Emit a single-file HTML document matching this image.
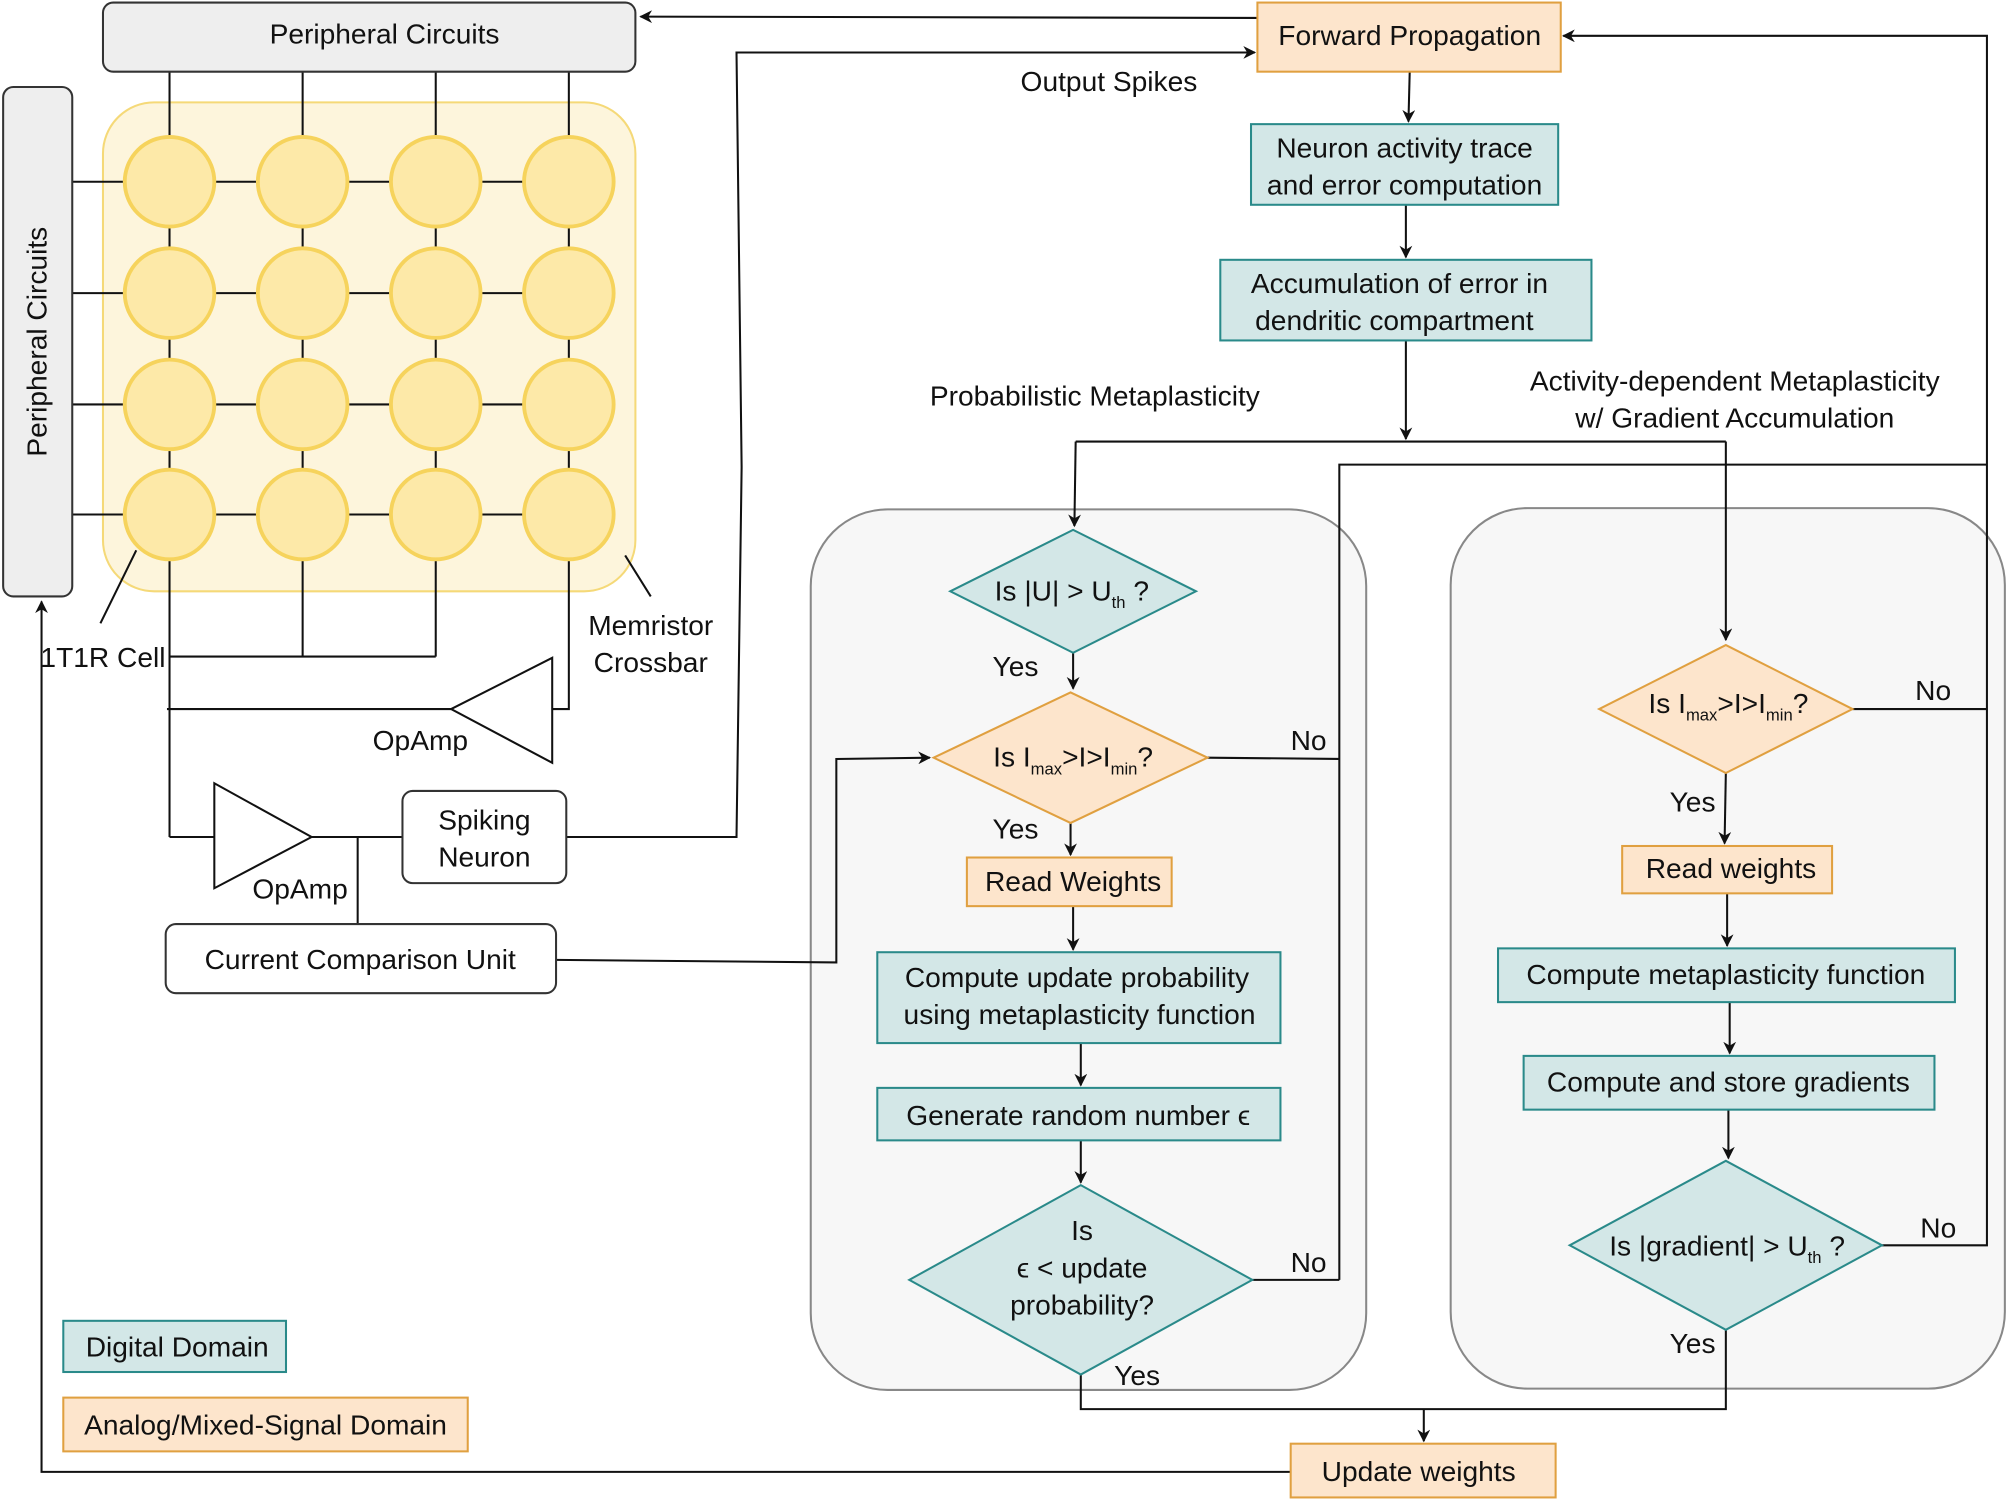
<!DOCTYPE html>
<html><head><meta charset="utf-8"><style>
html,body{margin:0;padding:0;background:#fff}
svg{display:block}
text{font-family:"Liberation Sans",sans-serif;font-size:22px;fill:#111}
</style></head><body>
<svg width="2008" height="1500" viewBox="0 0 1568 1172" xmlns="http://www.w3.org/2000/svg">
<defs>
<marker id="a" markerWidth="10" markerHeight="10" refX="9" refY="5" orient="auto" markerUnits="userSpaceOnUse"><path d="M0,0 L10,5 L0,10 L3,5 z" fill="#111"/></marker>
</defs>
<g stroke="#111" stroke-width="1.6" fill="none">
<rect x="633" y="398" width="434" height="688" rx="60" fill="#f7f7f7" stroke="#888"/>
<rect x="1133" y="397" width="433" height="688" rx="60" fill="#f7f7f7" stroke="#888"/>
<rect x="80" y="80" width="416" height="382" rx="40" fill="#fdf5dc" stroke="#f5d978"/>
<path d="M132,56V142M236,56V142M340,56V142M444,56V142"/>
<path d="M56,142H444M56,229H444M56,316H444M56,402H444"/>
<path d="M132,142V402M236,142V402M340,142V402M444,142V402"/>
<path d="M132,402V654M236,402V513M340,402V513M132,513H340M444,402V554H431"/>
<path d="M130,554H352"/>
<path d="M352,554L431,514L431,596Z"/>
<path d="M132,654H167M167,612L243,654L167,694ZM243,654H314M279,654V722"/>
<path d="M78,487L106,430M488,434L508,466"/>
<path d="M442,654H575L579,365L575,41H980" marker-end="url(#a)"/>
<path d="M434,750L653,752V593L726,592" marker-end="url(#a)"/>
<path d="M982,14L500,13" marker-end="url(#a)"/>
<path d="M1101,56L1100,95" marker-end="url(#a)"/>
<path d="M1098,160V201" marker-end="url(#a)"/>
<path d="M1098,266V343" marker-end="url(#a)"/>
<path d="M840,345H1348"/>
<path d="M840,345L839,411" marker-end="url(#a)"/>
<path d="M1348,345V500" marker-end="url(#a)"/>
<path d="M1046,1000V363H1552"/>
<path d="M943,592L1046,593M978,1000H1046"/>
<path d="M1447,554H1552M1470,973H1552V28H1221" marker-end="url(#a)"/>
<path d="M838,510V538" marker-end="url(#a)"/>
<path d="M836,643V668" marker-end="url(#a)"/>
<path d="M838,708V742" marker-end="url(#a)"/>
<path d="M844,815V848" marker-end="url(#a)"/>
<path d="M844,891V924" marker-end="url(#a)"/>
<path d="M1348,604L1347,659" marker-end="url(#a)"/>
<path d="M1349,698V739" marker-end="url(#a)"/>
<path d="M1351,783V823" marker-end="url(#a)"/>
<path d="M1350,867V905" marker-end="url(#a)"/>
<path d="M844,1074V1101H1348V1039"/>
<path d="M1112,1101V1126" marker-end="url(#a)"/>
<path d="M1008,1150H32V470" marker-end="url(#a)"/>
</g>
<g fill="#fde9a8" stroke="#f6d35c" stroke-width="3">
<circle cx="132" cy="142" r="35"/><circle cx="236" cy="142" r="35"/><circle cx="340" cy="142" r="35"/><circle cx="444" cy="142" r="35"/>
<circle cx="132" cy="229" r="35"/><circle cx="236" cy="229" r="35"/><circle cx="340" cy="229" r="35"/><circle cx="444" cy="229" r="35"/>
<circle cx="132" cy="316" r="35"/><circle cx="236" cy="316" r="35"/><circle cx="340" cy="316" r="35"/><circle cx="444" cy="316" r="35"/>
<circle cx="132" cy="402" r="35"/><circle cx="236" cy="402" r="35"/><circle cx="340" cy="402" r="35"/><circle cx="444" cy="402" r="35"/>
</g>
<g stroke="#333" stroke-width="1.6">
<rect x="80" y="2" width="416" height="54" rx="8" fill="#eee"/>
<rect x="2" y="68" width="54" height="398" rx="8" fill="#eee"/>
<rect x="314" y="618" width="128" height="72" rx="8" fill="#fff"/>
<rect x="129" y="722" width="305" height="54" rx="8" fill="#fff"/>
</g>
<g fill="#fde5cc" stroke="#e0a040" stroke-width="1.6">
<rect x="982" y="2" width="237" height="54"/>
<rect x="755" y="670" width="160" height="38"/>
<rect x="1267" y="661" width="164" height="37"/>
<rect x="1008" y="1128" width="207" height="42"/>
<rect x="49" y="1092" width="316" height="42"/>
<path d="M729,592L836,541L943,592L836,643Z"/>
<path d="M1249,554L1348,504L1447,554L1348,604Z"/>
</g>
<g fill="#d3e7e7" stroke="#2a8a8a" stroke-width="1.6">
<rect x="977" y="97" width="240" height="63"/>
<rect x="953" y="203" width="290" height="63"/>
<rect x="685" y="744" width="315" height="71"/>
<rect x="685" y="850" width="315" height="41"/>
<rect x="1170" y="741" width="357" height="42"/>
<rect x="1190" y="825" width="321" height="42"/>
<rect x="49" y="1032" width="174" height="40"/>
<path d="M742,462L838,414L934,462L838,510Z"/>
<path d="M710,1000L844,926L978,1000L844,1074Z"/>
<path d="M1226,973L1348,907L1470,973L1348,1039Z"/>
</g>
<g text-anchor="middle">
<text x="300" y="34">Peripheral Circuits</text>
<text transform="translate(36,267) rotate(-90)">Peripheral Circuits</text>
<text x="378" y="648">Spiking</text><text x="378" y="677">Neuron</text>
<text x="281" y="757">Current Comparison Unit</text>
<text x="328" y="586">OpAmp</text>
<text x="234" y="702">OpAmp</text>
<text x="80" y="521">1T1R Cell</text>
<text x="508" y="496">Memristor</text><text x="508" y="525">Crossbar</text>
<text x="1101" y="35">Forward Propagation</text>
<text x="866" y="71">Output Spikes</text>
<text x="1097" y="123">Neuron activity trace</text><text x="1097" y="152">and error computation</text>
<text x="1093" y="229">Accumulation of error in</text><text x="1089" y="258">dendritic compartment</text>
<text x="855" y="317">Probabilistic Metaplasticity</text>
<text x="1355" y="305">Activity-dependent Metaplasticity</text>
<text x="1355" y="334">w/ Gradient Accumulation</text>
<text x="837" y="469">Is |U| &gt; U<tspan font-size="13" dy="6">th</tspan><tspan dy="-6"> ?</tspan></text>
<text x="838" y="599">Is I<tspan font-size="13" dy="6">max</tspan><tspan dy="-6">&gt;I&gt;I</tspan><tspan font-size="13" dy="6">min</tspan><tspan dy="-6">?</tspan></text>
<text x="1350" y="557">Is I<tspan font-size="13" dy="6">max</tspan><tspan dy="-6">&gt;I&gt;I</tspan><tspan font-size="13" dy="6">min</tspan><tspan dy="-6">?</tspan></text>
<text x="838" y="696">Read Weights</text>
<text x="1352" y="686">Read weights</text>
<text x="841" y="771">Compute update probability</text><text x="843" y="800">using metaplasticity function</text>
<text x="842" y="879">Generate random number ϵ</text>
<text x="845" y="969">Is</text><text x="845" y="998">ϵ &lt; update</text><text x="845" y="1027">probability?</text>
<text x="1348" y="769">Compute metaplasticity function</text>
<text x="1350" y="853">Compute and store gradients</text>
<text x="1349" y="981">Is |gradient| &gt; U<tspan font-size="13" dy="6">th</tspan><tspan dy="-6"> ?</tspan></text>
<text x="1108" y="1157">Update weights</text>
<text x="138" y="1060">Digital Domain</text>
<text x="207" y="1121">Analog/Mixed-Signal Domain</text>
<text x="793" y="528">Yes</text>
<text x="793" y="655">Yes</text>
<text x="1022" y="586">No</text>
<text x="1022" y="994">No</text>
<text x="888" y="1082">Yes</text>
<text x="1510" y="547">No</text>
<text x="1322" y="634">Yes</text>
<text x="1514" y="967">No</text>
<text x="1322" y="1057">Yes</text>
</g>
</svg>
</body></html>
